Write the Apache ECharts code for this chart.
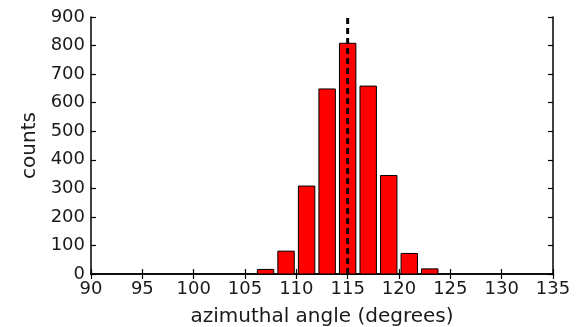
<!DOCTYPE html>
<html>
<head>
<meta charset="utf-8">
<script src="https://cdn.jsdelivr.net/npm/echarts@6/dist/echarts.min.js"></script>
<style>
  html, body { margin: 0; padding: 0; background: #ffffff; }
  #chart { width: 581px; height: 327px; }
</style>
</head>
<body>
<div id="chart"></div>
<script>
// Histogram of azimuthal angles: bin centres (degrees) and counts per bin
const binCenters = [107, 109, 111, 113, 115, 117, 119, 121, 123];
const binCounts = [16, 80, 308, 648, 808, 658, 345, 72, 18];
const binWidth = 2;
const barFraction = 0.8;
// Reference angle marked with the dashed line
const meanAngle = 115;
const xTicks = [90, 95, 100, 105, 110, 115, 120, 125, 130, 135];
const yTicks = [0, 100, 200, 300, 400, 500, 600, 700, 800, 900];

const FONT = 'DejaVu Sans';
const TICK_FS = 18;
const TITLE_FS = 20;
const textColor = '#1a1a1a';
const ink = '#000000';

const chart = echarts.init(document.getElementById('chart'), null, { renderer: 'canvas' });

const axisCommon = {
  axisLine: { show: true, lineStyle: { color: ink, width: 1.5 } },
  axisTick: { show: true, inside: true, length: 5, lineStyle: { color: ink, width: 1.2 } },
  splitLine: { show: false }
};

chart.setOption({
  backgroundColor: '#ffffff',
  animation: false,
  grid: { left: 91, right: 28, top: 17, bottom: 53, containLabel: false, outerBoundsMode: 'none' },
  xAxis: [
    Object.assign({
      type: 'value', min: xTicks[0], max: xTicks[xTicks.length - 1], interval: 5,
      name: 'azimuthal angle (degrees)', nameLocation: 'middle', nameGap: 33,
      nameTextStyle: { fontFamily: FONT, fontSize: TITLE_FS, color: textColor },
      axisLabel: { fontFamily: FONT, fontSize: TICK_FS, color: textColor, margin: 6 }
    }, axisCommon),
    Object.assign({
      type: 'value', position: 'top', min: xTicks[0], max: xTicks[xTicks.length - 1], interval: 5,
      axisLabel: { show: false }
    }, axisCommon)
  ],
  yAxis: [
    Object.assign({
      type: 'value', min: yTicks[0], max: yTicks[yTicks.length - 1], interval: 100,
      name: 'counts', nameLocation: 'middle', nameGap: 46, nameRotate: 90,
      nameTextStyle: { fontFamily: FONT, fontSize: TITLE_FS, color: textColor },
      axisLabel: { fontFamily: FONT, fontSize: TICK_FS, color: textColor, margin: 6 }
    }, axisCommon),
    Object.assign({
      type: 'value', position: 'right', min: yTicks[0], max: yTicks[yTicks.length - 1], interval: 100,
      axisLabel: { show: false }
    }, axisCommon)
  ],
  series: [
    {
      type: 'custom',
      xAxisIndex: 0, yAxisIndex: 0,
      data: binCenters.map((c, i) => [c, binCounts[i]]),
      renderItem: function (params, api) {
        const c = api.value(0), n = api.value(1);
        const half = binWidth * barFraction / 2;
        const p0 = api.coord([c - half, n]);
        const p1 = api.coord([c + half, 0]);
        return {
          type: 'rect',
          shape: { x: p0[0], y: p0[1], width: p1[0] - p0[0], height: p1[1] - p0[1] },
          style: { fill: '#ff0000', stroke: '#000000', lineWidth: 1 }
        };
      },
      z: 2
    },
    {
      type: 'line',
      xAxisIndex: 0, yAxisIndex: 0,
      data: [[meanAngle, yTicks[0]], [meanAngle, yTicks[yTicks.length - 1]]],
      symbol: 'none',
      lineStyle: { color: '#000000', width: 3, type: [6, 4] },
      z: 3
    }
  ]
});
</script>
</body>
</html>
